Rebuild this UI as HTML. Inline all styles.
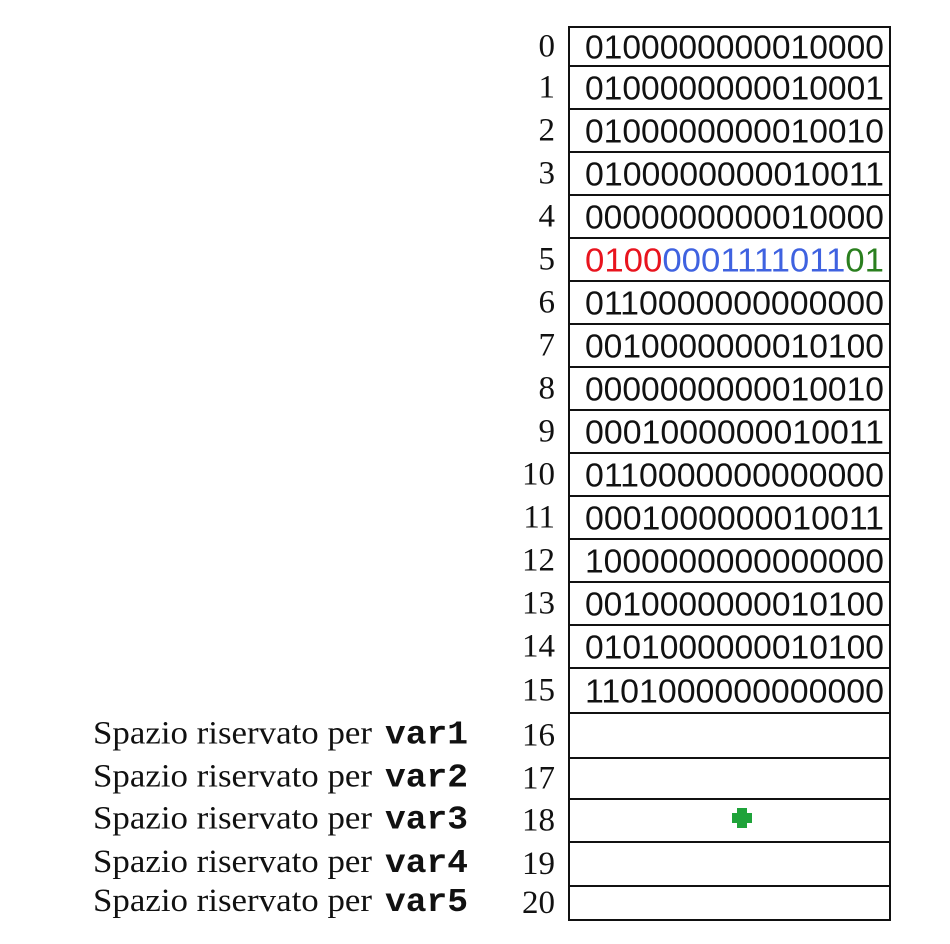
<!DOCTYPE html>
<html><head><meta charset="utf-8">
<style>
html,body{margin:0;padding:0;background:#fff;}
svg{display:block;}
</style></head>
<body>
<svg id="chart" width="950" height="944" viewBox="0 0 950 944" xmlns="http://www.w3.org/2000/svg">
<rect x="0" y="0" width="950" height="944" fill="#fff"/>
</svg>
<script>
const rowLines = [27,66,109,152,195,238,281,324,367,410,453,496,539,582,625,668,713,758,799,842,886,920];
const indices = ["0","1","2","3","4","5","6","7","8","9","10","11","12","13","14","15","16","17","18","19","20"];
const values = ["0100000000010000","0100000000010001","0100000000010010","0100000000010011","0000000000010000",
  "","0110000000000000","0010000000010100","0000000000010010","0001000000010011","0110000000000000",
  "0001000000010011","1000000000000000","0010000000010100","0101000000010100","1101000000000000"];
const row5Parts = ["0100","0001111011","01"];
const row5Colors = ["#e8141e","#3f62e0","#2a7f1e"];
const varNames = ["var1","var2","var3","var4","var5"];
const NS = "http://www.w3.org/2000/svg";
const svg = document.getElementById("chart");
const L = 569, R = 890;
function mk(tag, attrs){const e=document.createElementNS(NS,tag);for(const k in attrs)e.setAttribute(k,attrs[k]);svg.appendChild(e);return e;}

for (let i = 0; i < indices.length; i++) {
  const top = rowLines[i], bot = rowLines[i+1], cy = (top+bot)/2;
  const cell = mk("rect",{x:L,y:top,width:R-L,height:bot-top,fill:"none",stroke:"#111","stroke-width":2});
  
  
  const idx = mk("text",{x:555,y:cy+10,"text-anchor":"end","font-family":"Liberation Serif, serif","font-size":33,fill:"#111"});
  idx.textContent = indices[i];
  
  
  if (i < 16) {
    const t = mk("text",{x:585,y:cy+12,"font-family":"Liberation Sans, sans-serif","font-size":33,fill:"#111",textLength:299,lengthAdjust:"spacingAndGlyphs"});
    
    
    if (i === 5) {
      row5Parts.forEach((p, j) => {
        const s = document.createElementNS(NS,"tspan");
        s.setAttribute("fill", row5Colors[j]);
        s.textContent = p;
        
        
        t.appendChild(s);
      });
    } else {
      t.textContent = values[i];
    }
  } else {
    const v = i - 16;
    const lab = mk("text",{x:93,y:cy+8,"font-family":"Liberation Serif, serif","font-size":33,fill:"#111",textLength:279,lengthAdjust:"spacingAndGlyphs"});
    lab.textContent = "Spazio riservato per";
    
    
    const b = mk("text",{x:385,y:cy+8,"font-family":"Liberation Mono, monospace","font-weight":"bold","font-size":33,fill:"#111",textLength:83,lengthAdjust:"spacingAndGlyphs"});
    b.textContent = varNames[v];
    
    
  }
}
const cross = mk("path",{d:"M737 808h10v5h5v10h-5v5h-10v-5h-5v-10h5z",fill:"#1fa33a"});


</script>
</body></html>
